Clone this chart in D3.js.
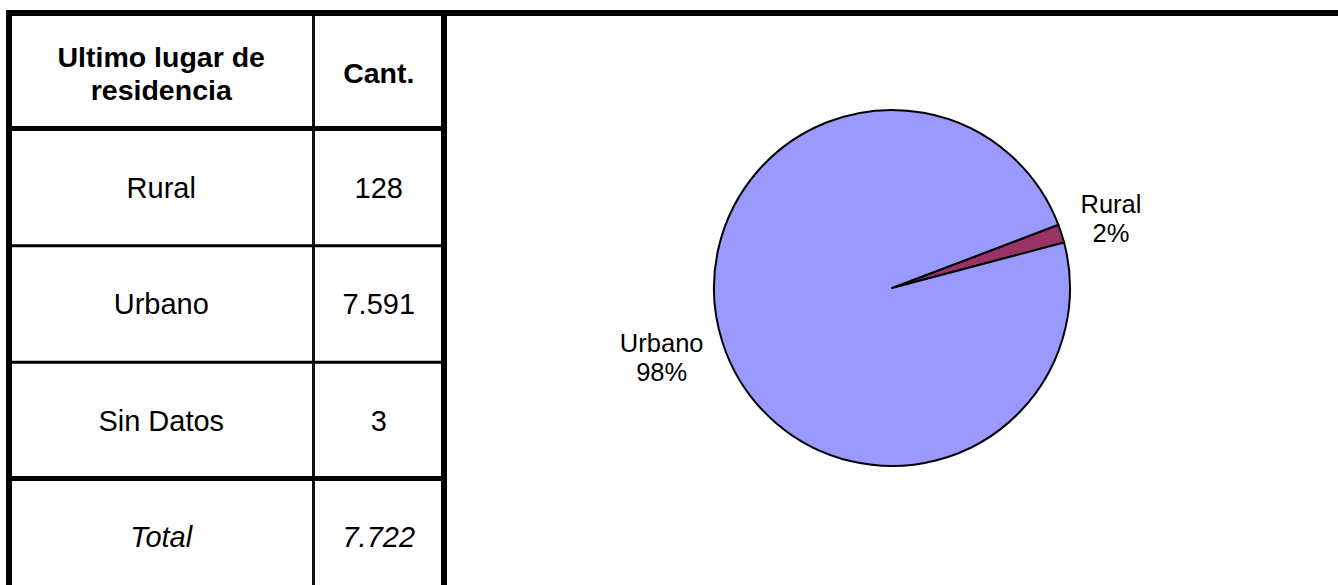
<!DOCTYPE html>
<meta charset="utf-8">
<style>
body { margin: 0; background: #fff; }
text { font-family: "Liberation Sans", Arial, sans-serif; fill: #000; }
</style>
<body>
<div id="chart"></div>
<script src="https://d3js.org/d3.v7.min.js"></script>
<script>
// table data
var headerLines = ["Ultimo lugar de", "residencia"];
var countHeader = "Cant.";
var categories = ["Rural", "Urbano", "Sin Datos"];
var counts = [128, 7591, 3];
var totalLabel = "Total";
// slices shown in the pie
var pieCategories = ["Rural", "Urbano"];
var pieColors = ["#993366", "#9999FF"];

var width = 1338, height = 585;
var es = d3.formatLocale({decimal: ",", thousands: ".", grouping: [3]});
var fmtCount = es.format(",d");
var fmtPct = d3.format(".0%");

var svg = d3.select("#chart").append("svg")
    .attr("width", width)
    .attr("height", height);

// ---- table ----
var rowKeys = ["header"].concat(categories).concat(["total"]);
var y = d3.scaleBand().domain(rowKeys).range([13, 595]);
var x = d3.scaleOrdinal().domain(["label", "count"]).range([9, 313.5]);
var tableRight = 444;
var colCenter = {label: (9 + 313.5) / 2, count: (313.5 + tableRight) / 2};

var grid = svg.append("g").attr("class", "grid");

// thin row separators
categories.slice(1).forEach(function(k) {
  grid.append("line")
      .attr("x1", 9).attr("x2", tableRight)
      .attr("y1", y(k)).attr("y2", y(k))
      .attr("stroke", "#000").attr("stroke-width", 3);
});
// column divider
grid.append("line")
    .attr("x1", x("count")).attr("x2", x("count"))
    .attr("y1", 13).attr("y2", height)
    .attr("stroke", "#111").attr("stroke-width", 3);
// thick lines
grid.append("line")
    .attr("x1", 9).attr("x2", tableRight)
    .attr("y1", y("Rural") - 1).attr("y2", y("Rural") - 1)
    .attr("stroke", "#000").attr("stroke-width", 5);
grid.append("line")
    .attr("x1", 9).attr("x2", tableRight)
    .attr("y1", y("total")).attr("y2", y("total"))
    .attr("stroke", "#000").attr("stroke-width", 5);
grid.append("line")
    .attr("x1", 9).attr("x2", 9)
    .attr("y1", 13).attr("y2", height)
    .attr("stroke", "#000").attr("stroke-width", 6);
grid.append("line")
    .attr("x1", tableRight).attr("x2", tableRight)
    .attr("y1", 13).attr("y2", height)
    .attr("stroke", "#000").attr("stroke-width", 6);
grid.append("line")
    .attr("x1", 6).attr("x2", width)
    .attr("y1", 13).attr("y2", 13)
    .attr("stroke", "#000").attr("stroke-width", 6);

var fs = 29, hfs = 28.5;
// header
var hc = y("header") + y.bandwidth() / 2 + 2;
svg.append("text")
    .attr("x", colCenter.label).attr("y", hc)
    .attr("text-anchor", "middle")
    .style("font-size", hfs + "px").style("font-weight", "bold")
  .selectAll("tspan").data(headerLines).enter().append("tspan")
    .attr("x", colCenter.label)
    .attr("dy", function(d, i) { return i === 0 ? (-0.5 * 1.17 + 0.35) + "em" : "1.17em"; })
    .text(function(d) { return d; });
svg.append("text")
    .attr("x", colCenter.count).attr("y", hc)
    .attr("dy", "0.35em")
    .attr("text-anchor", "middle")
    .style("font-size", hfs + "px").style("font-weight", "bold")
    .text(countHeader);

// body rows
var rows = svg.selectAll(".row").data(categories).enter().append("g").attr("class", "row");
rows.append("text")
    .attr("x", colCenter.label)
    .attr("y", function(d) { return y(d) + y.bandwidth() / 2; })
    .attr("dy", "0.35em").attr("text-anchor", "middle")
    .style("font-size", fs + "px")
    .text(function(d) { return d; });
rows.append("text")
    .attr("x", colCenter.count)
    .attr("y", function(d) { return y(d) + y.bandwidth() / 2; })
    .attr("dy", "0.35em").attr("text-anchor", "middle")
    .style("font-size", fs + "px")
    .text(function(d, i) { return fmtCount(counts[i]); });

// total row
var tc = y("total") + y.bandwidth() / 2;
svg.append("text")
    .attr("x", colCenter.label).attr("y", tc).attr("dy", "0.35em")
    .attr("text-anchor", "middle")
    .style("font-size", fs + "px").style("font-style", "italic")
    .text(totalLabel);
svg.append("text")
    .attr("x", colCenter.count).attr("y", tc).attr("dy", "0.35em")
    .attr("text-anchor", "middle")
    .style("font-size", fs + "px").style("font-style", "italic")
    .text(fmtCount(d3.sum(counts)));

// ---- pie ----
var pieData = pieCategories.map(function(c) {
  return {key: c, value: counts[categories.indexOf(c)]};
});
var pieTotal = d3.sum(pieData, function(d) { return d.value; });
var cx = 892, cy = 288, r = 178;
var start = 69.2 * Math.PI / 180;
var pie = d3.pie().sort(null).value(function(d) { return d.value; })
    .startAngle(start).endAngle(start + 2 * Math.PI);
var arc = d3.arc().innerRadius(0).outerRadius(r);
var color = d3.scaleOrdinal().domain(pieCategories).range(pieColors);

var pg = svg.append("g").attr("transform", "translate(" + cx + "," + cy + ")");
var arcs = pie(pieData);
pg.selectAll("path").data(arcs).enter().append("path")
    .attr("d", arc)
    .attr("fill", function(d) { return color(d.data.key); })
    .attr("stroke", "#000")
    .attr("stroke-width", 2)
    .attr("stroke-linejoin", "round");

var lfs = 25.5, lh = 1.16 * lfs;
var labels = pg.selectAll(".lbl").data(arcs).enter().append("text")
    .attr("class", "lbl")
    .attr("text-anchor", "middle")
    .style("font-size", lfs + "px");
labels.append("tspan").attr("x", 0).attr("dy", 0)
    .text(function(d) { return d.data.key; });
labels.append("tspan").attr("x", 0).attr("dy", lh)
    .text(function(d) { return fmtPct(d.value / pieTotal); });
labels.each(function(d) {
  var a = (d.startAngle + d.endAngle) / 2;
  var s = Math.sin(a), c = -Math.cos(a);
  var bb = this.getBBox();
  var px = (r + 20) * s, py = (r + 20) * c;
  var hw = bb.width / 2, hh = bb.height / 2;
  var lx = px + (s >= 0 ? hw : -hw);
  var ly = py + c * hh;
  // shift so the two-line block is centred on (lx, ly)
  var top = ly - hh - bb.y;
  d3.select(this).attr("transform", "translate(" + lx + "," + top + ")");
});
</script>
</body>
